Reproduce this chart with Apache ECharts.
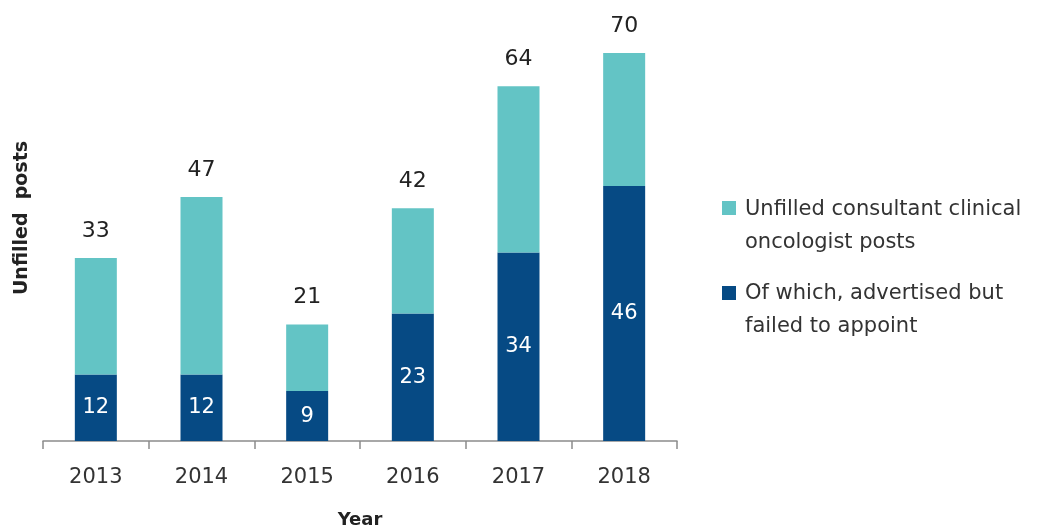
<!DOCTYPE html>
<html><head><meta charset="utf-8">
<script src="https://cdn.jsdelivr.net/npm/echarts@6/dist/echarts.min.js"></script>
<style>html,body{margin:0;padding:0;background:#fff}#c{width:1047px;height:529px}</style>
</head><body><div id="c"></div>
<script>
var years = ['2013','2014','2015','2016','2017','2018'];
// total bar heights as drawn in the picture
var totals = [33,44,21,42,64,70];
// total labels as printed above the bars
var totalLabels = ['33','47','21','42','64','70'];
var failed = [12,12,9,23,34,46];
var seriesNames = ['Unfilled consultant clinical\noncologist posts','Of which, advertised but\nfailed to appoint'];
var xTitle = 'Year';
var yTitle = 'Unfilled  posts';
var lightColor = '#63c4c5';
var darkColor = '#064a84';
var font = 'DejaVu Sans';

var remainder = totals.map(function(t,i){return t - failed[i];});
var chart = echarts.init(document.getElementById('c'));
chart.setOption({
  animation:false,
  textStyle:{fontFamily:font},
  grid:{left:43,right:370,top:53,bottom:88,containLabel:false,outerBoundsMode:'none'},
  xAxis:{type:'category',data:years,
    axisLine:{lineStyle:{color:'#8c8c8c',width:1.5}},
    axisTick:{show:true,length:8,lineStyle:{color:'#8c8c8c',width:1.5}},
    axisLabel:{color:'#333',fontSize:21,margin:26,fontFamily:font},
    name:xTitle,nameLocation:'middle',nameGap:70,
    nameTextStyle:{fontWeight:'bold',fontSize:18,color:'#222',fontFamily:font}},
  yAxis:{type:'value',min:0,max:70,show:false},
  series:[
    {name:seriesNames[1],type:'bar',stack:'s',data:failed,barWidth:42,
     itemStyle:{color:darkColor},
     label:{show:true,position:'inside',color:'#fff',fontSize:21,fontFamily:font}},
    {name:seriesNames[0],type:'bar',stack:'s',data:remainder,barWidth:42,
     itemStyle:{color:lightColor},
     label:{show:true,position:'top',distance:16,color:'#222',fontSize:22,fontFamily:font,
       formatter:function(p){return totalLabels[p.dataIndex];}}}
  ],
  graphic:[
    {type:'text',x:22,y:218,rotation:Math.PI/2,style:{text:yTitle,fontFamily:font,fontWeight:'bold',fontSize:19,fill:'#222',align:'center',verticalAlign:'middle'}},
    {type:'rect',shape:{x:722,y:201,width:14,height:14},style:{fill:lightColor}},
    {type:'text',x:745,y:193,style:{text:seriesNames[0],fontFamily:font,fontSize:21,fill:'#333',lineHeight:33,verticalAlign:'top',align:'left'}},
    {type:'rect',shape:{x:722,y:286,width:14,height:14},style:{fill:darkColor}},
    {type:'text',x:745,y:277,style:{text:seriesNames[1],fontFamily:font,fontSize:21,fill:'#333',lineHeight:33,verticalAlign:'top',align:'left'}}
  ]
});
</script></body></html>
